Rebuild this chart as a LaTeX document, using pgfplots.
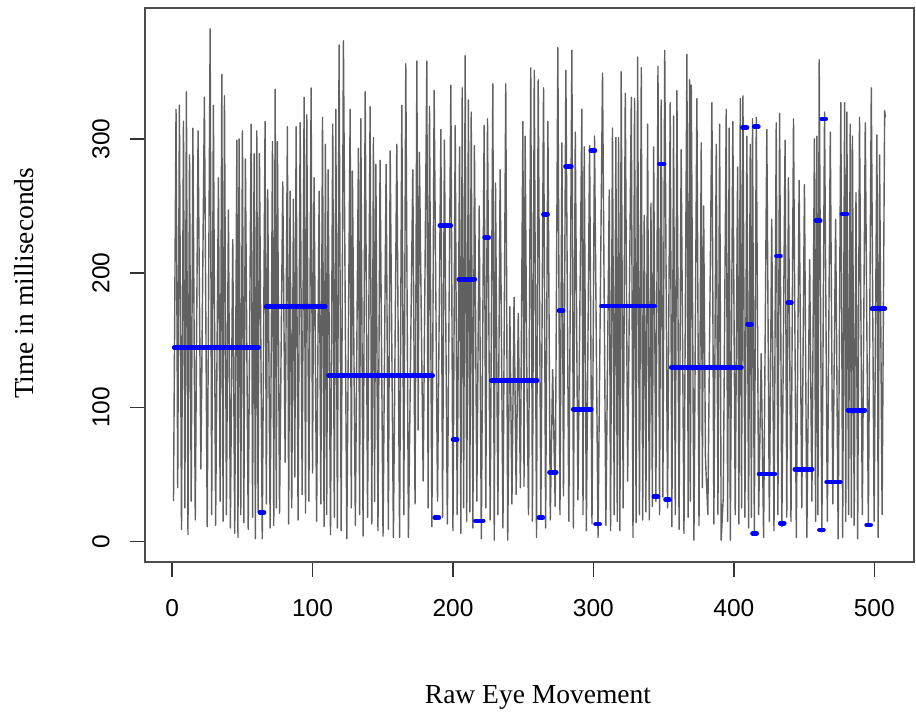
\documentclass[border=0pt]{standalone}
\usepackage{fontspec}
\setmainfont{Liberation Serif}
\newfontfamily\sansf{Liberation Sans}
\usepackage{pgfplots}
\pgfplotsset{compat=1.18}
\begin{document}
\begin{tikzpicture}
\path[use as bounding box] (-72.5pt,-76.5pt) rectangle (385.5pt,281pt);
\begin{axis}[
  at={(0,0)}, anchor=south west, scale only axis,
  width=384.5pt, height=277pt,
  xmin=-19.3, xmax=528.3, ymin=-15.3, ymax=397.5,
  xtick={0,100,200,300,400,500}, ytick={0,100,200,300},
  tick pos=left, tick align=outside, major tick length=7.5pt,
  every tick/.style={black!80, line width=0.7pt},
  axis line style={black!70, line width=0.8pt},
  tick label style={font=\sansf\fontsize{12.25}{14}\selectfont},
  /pgf/number format/assume math mode=true,
  xticklabel style={anchor=center, yshift=-15.5pt},
  yticklabel style={rotate=90, anchor=center, yshift=14.5pt},
  xlabel={Raw Eye Movement}, ylabel={Time in milliseconds},
  xlabel style={at={(axis description cs:0.511,-0.2563)}, anchor=base, font=\fontsize{13.75}{16}\selectfont},
  ylabel style={at={(axis description cs:-0.1573,0.503)}, anchor=center, font=\fontsize{13.75}{16}\selectfont},
]
\addplot[black!62, line width=0.7pt, line join=round] coordinates {
(1,30)
(2.8,322) (4,40) (5.2,325) (6.7,9) (8.1,313) (9.1,25) (10.2,335) (11.3,5) (12.4,288) (13.6,30) (14.8,308) (16.5,16) (18.5,306) (20.5,54) (23,331) (25,11) (27.1,382) (28.2,20) (29.4,325) (31,12) (33,271) (34.2,30) (35.4,348) (36.3,15) (37.3,332) (38.7,20) (40.1,247) (41.5,10) (43.2,225) (44.6,6) (46.1,299) (46.9,3) (47.7,300) (48.9,20) (50.1,306) (51.1,14) (52.2,285) (54.2,9) (56.3,311) (57.3,18) (58.4,289) (59.3,2) (60.3,306) (61.2,22) (62.2,289) (64.2,2) (66.2,313) (67.1,28) (68.1,262) (69.8,10) (71.5,298) (72.4,12) (73.4,337) (74.2,25) (75,298) (76.5,21) (78.8,268) (80.5,59) (82.1,309) (83,13) (84,261) (85.2,25) (86.4,255) (87.4,48) (88.3,309) (89.7,16) (91.2,312) (92.6,35) (94,331) (95,21) (95.9,318) (97.4,30) (99,338) (100,51) (101.1,271) (102.9,15) (104.7,261) (105.9,28) (107.1,316) (108.2,11) (109.2,296) (110.1,20) (111.1,277) (112.8,5) (114.4,311) (115.5,18) (116.6,322) (117.7,10) (118.9,370) (120.4,8) (122,373) (124.4,2) (126.8,322) (127.6,25) (128.4,276) (130.5,12) (132.7,293) (133.5,20) (134.4,315) (136,4) (137.5,335) (139.2,18) (141,324) (142.2,13) (143.4,301) (144.2,30) (145.1,281) (146.6,8) (148.1,284) (150.2,4) (152.4,281) (154,9) (155.3,291) (157.6,3)
(160,296) (162,3) (163.6,325) (165,20) (166.4,356) (168.3,3) (171.4,277) (173,28) (174.3,358) (175.2,83) (176.1,290) (178.8,45) (181.4,358) (182.3,25) (183.3,324) (185,11) (186.6,336) (189,30) (191.4,307) (192.6,18) (193.9,299) (196,13) (198.5,340) (200,8) (201.6,310) (203,20) (204.7,294) (205.6,6) (206.6,338) (207.6,25) (208.7,362) (209.8,15) (211,329) (212,22) (213,320) (214.2,10) (215.3,295) (217,30) (218.7,250) (220.2,2) (222.2,310) (223.4,25) (224.6,315) (226.5,16) (228.4,341) (229.4,1) (230.3,267) (232,20) (233.6,277) (235.6,10) (237.6,341) (239,1) (240.5,175) (242,28) (243.5,182) (245,35) (246.5,170) (248,40) (249.8,313) (250.6,41) (251.4,302) (252.5,137) (253.8,20) (255.4,353) (256.6,15) (257.9,351) (259.5,3) (260.7,344) (262.6,18) (264.5,338) (266,10) (267.6,313) (269.3,16) (271,128) (272.8,26) (274.7,368) (276.2,20) (277.6,297) (278.7,34) (280.4,351) (282.5,15) (284.7,366) (285.8,10) (287.1,305) (289,31) (291.8,322) (292.6,20) (293.5,294) (295,8) (297.3,295) (299,13) (300.8,302) (303.3,3) (306.5,349) (308.9,12) (311.3,262) (312.2,8) (313.6,308) (314.8,20) (316,301) (317,15) (317.9,301) (318.9,8) (319.8,350) (321.2,25) (322.7,334) (324.4,45) (327,331) (328.2,3) (329.3,330) (330.4,14) (331.5,361) (332.8,20) (334.1,353) (335.1,16) (336.2,243) (337.4,22) (338.6,311) (339.8,16) (341,252) (342,26) (342.9,294) (344.5,30)
(346,354) (347.1,20) (348.3,329) (349.5,33) (350.8,366) (352.8,25) (354.7,327) (355.9,11) (357.1,317) (358.3,20) (359.5,336) (361,9) (362.5,292) (364.5,6) (366.6,363) (367.5,18) (368.5,344) (369.1,30) (369.7,340) (371.6,1) (373.7,330) (375.2,12) (376.8,297) (377.6,40) (378.5,250) (379.8,62) (381.5,20) (384.4,327) (385.8,13) (387.5,296) (388.7,20) (389.9,311) (391,1) (392.5,33) (394.6,322) (395.6,15) (396.7,308) (397.5,1) (399.3,313) (401,20) (402.7,279) (403.6,13) (404.6,330) (405.5,25) (406.5,332) (407.9,18) (409.3,302) (410.5,10) (411.7,296) (412.5,18) (413.3,315) (414.6,6) (416,316) (417.7,20) (419.5,140) (421.2,3) (423.5,307) (425.3,15) (427,240) (428.6,8) (430.2,312) (431.4,20) (432.6,319) (434.2,11) (436.5,299) (437.7,18) (438.9,271) (440.7,15) (442.5,315) (444.5,3) (446.5,269) (448.4,25) (450.3,266) (452,3) (454,210) (455.6,30) (457.4,300) (458.2,15) (459.1,302) (459.9,20) (460.8,359) (462.7,7) (464.6,320) (466.6,15) (468.7,305) (470.5,28) (472.5,240) (474.3,2) (476.2,327) (477.5,3) (478.9,327) (479.7,15) (480.5,320) (481.7,20) (482.9,311) (483.7,18) (484.5,302) (485.7,12) (487,260) (488.2,2) (489.5,316) (491.5,20) (493.6,312) (495.8,13) (497.9,338) (499.9,15) (501.9,303) (502.8,3) (503.8,288) (505.6,20) (507.4,321) (508,316)
};
\pgfplotsset{seg/.style={color=blue, line width=2.4pt, line cap=round}}
\addplot[seg] coordinates {(1.5,144.5) (61.5,144.5)};
\addplot[seg] coordinates {(67,175) (109,175)};
\addplot[seg] coordinates {(111.5,123.5) (185.5,123.5)};
\addplot[seg] coordinates {(62.6,21.5) (65.4,21.5)};
\addplot[seg] coordinates {(187.1,17.7) (189.9,17.7)};
\addplot[seg] coordinates {(190.7,235.3) (198.4,235.3)};
\addplot[seg] coordinates {(200.1,76) (202.9,76)};
\addplot[seg] coordinates {(204.3,195.4) (215.5,195.4)};
\addplot[seg] coordinates {(216,15.3) (221.5,15.3)};
\addplot[seg] coordinates {(222.6,226.4) (225.4,226.4)};
\addplot[seg] coordinates {(227.3,120) (259.9,120)};
\addplot[seg] coordinates {(261.2,17.7) (264,17.7)};
\addplot[seg] coordinates {(264.5,243.8) (267.3,243.8)};
\addplot[seg] coordinates {(268.8,51.5) (273.5,51.5)};
\addplot[seg] coordinates {(275.6,172) (278.4,172)};
\addplot[seg] coordinates {(280.2,279.3) (284.3,279.3)};
\addplot[seg] coordinates {(285.7,98.5) (298.5,98.5)};
\addplot[seg] coordinates {(298.2,291.2) (301,291.2)};
\addplot[seg] coordinates {(301.6,13) (304.4,13)};
\addplot[seg] coordinates {(305.8,175.5) (343.5,175.5)};
\addplot[seg] coordinates {(343.1,33.4) (345.9,33.4)};
\addplot[seg] coordinates {(347,281.3) (350.3,281.3)};
\addplot[seg] coordinates {(351.4,31) (354.2,31)};
\addplot[seg] coordinates {(355.5,129.8) (405.4,129.8)};
\addplot[seg] coordinates {(406.2,308.4) (409.3,308.4)};
\addplot[seg] coordinates {(409.8,161.8) (412.6,161.8)};
\addplot[seg] coordinates {(413.4,6) (416.2,6)};
\addplot[seg] coordinates {(414.6,309) (417.4,309)};
\addplot[seg] coordinates {(418,50.3) (429.2,50.3)};
\addplot[seg] coordinates {(430.4,212.7) (433.2,212.7)};
\addplot[seg] coordinates {(433.1,13.5) (435.9,13.5)};
\addplot[seg] coordinates {(438.5,178) (441,178)};
\addplot[seg] coordinates {(443.5,53.8) (455.8,53.8)};
\addplot[seg] coordinates {(458.5,239) (461.5,239)};
\addplot[seg] coordinates {(461,8.6) (463.8,8.6)};
\addplot[seg] coordinates {(462.6,314.8) (465.4,314.8)};
\addplot[seg] coordinates {(466.1,44.3) (475.9,44.3)};
\addplot[seg] coordinates {(477,244) (480.5,244)};
\addplot[seg] coordinates {(481.3,97.8) (493.3,97.8)};
\addplot[seg] coordinates {(494.6,12.3) (497.4,12.3)};
\addplot[seg] coordinates {(498.5,173.5) (507.5,173.5)};
\end{axis}
\end{tikzpicture}
\end{document}
